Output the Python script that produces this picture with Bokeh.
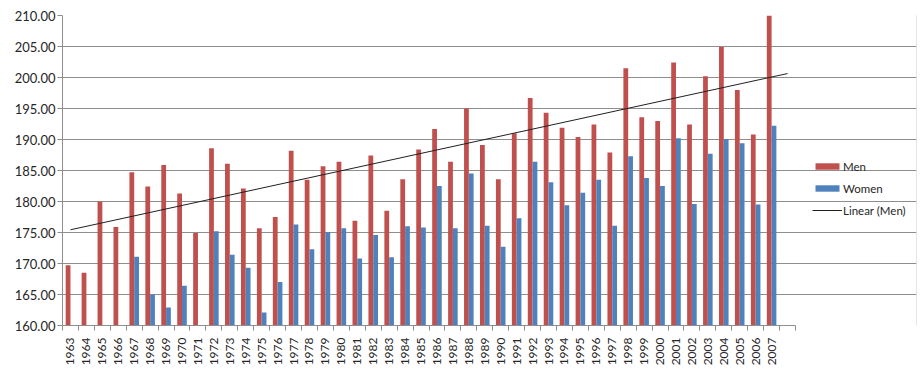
import numpy as np
from bokeh.plotting import figure
from bokeh.models import (Range1d, FixedTicker, PrintfTickFormatter, Legend, LegendItem,
                          ColumnDataSource)
from bokeh.transform import dodge
from bokeh.embed import file_html
from bokeh.resources import INLINE

nan = float("nan")

years = list(range(1963, 2008))
men = [169.7, 168.5, 180.0, 175.9, 184.7, 182.4, 185.9, 181.3, 174.9, 188.6,
       186.1, 182.1, 175.7, 177.5, 188.2, 183.5, 185.7, 186.4, 176.9, 187.4,
       178.5, 183.6, 188.4, 191.7, 186.4, 195.0, 189.1, 183.6, 191.0, 196.7,
       194.3, 191.9, 190.4, 192.4, 187.9, 201.5, 193.6, 193.0, 202.4, 192.4,
       200.2, 204.9, 198.0, 190.8, 210.0]
women = [nan, nan, 159.7, 159.7, 171.1, 165.0, 162.9, 166.4, nan, 175.2,
         171.4, 169.3, 162.1, 167.0, 176.3, 172.3, 175.1, 175.7, 170.8, 174.6,
         171.0, 176.0, 175.8, 182.5, 175.7, 184.5, 176.1, 172.7, 177.3, 186.4,
         183.1, 179.4, 181.4, 183.5, 176.1, 187.3, 183.8, 182.5, 190.2, 179.6,
         187.7, 190.1, 189.4, 179.5, 192.2]
y_ticks = [160, 165, 170, 175, 180, 185, 190, 195, 200, 205, 210]
series_names = ["Men", "Women", "Linear (Men)"]

MEN_COLOR = "#C0504D"
WOMEN_COLOR = "#4F81BD"
GRID = "#8E8E8E"
TEXT = "#262626"
FONT = "Lato"

x = np.array(years, dtype=float)
men_arr = np.array(men)
slope, intercept = np.polyfit(x, men_arr, 1)
trend_x = [years[0], years[-1] + 1]
trend_y = [slope * v + intercept for v in trend_x]

src = ColumnDataSource(dict(x=x, men=men, women=women, base=[160.0] * len(years)))

# layout geometry (pixels): plot area 62..795 x 15..325; frame extended to the
# right so the legend can sit beside the plot area
W, H = 919, 375
FL, FR_AXIS, FR, FT, FB = 62, 795, 916, 15, 325
x0 = years[0] - 0.5
x1_axis = years[-1] + 1.5
slot_px = (FR_AXIS - FL) / (x1_axis - x0)
x1_frame = x0 + (FR - FL) / slot_px

p = figure(width=W, height=H, output_backend="svg", toolbar_location=None,
           x_range=Range1d(x0, x1_frame),
           y_range=Range1d(y_ticks[0], y_ticks[-1]))
p.min_border_left = FL
p.min_border_right = W - FR
p.min_border_top = FT
p.min_border_bottom = H - FB
p.outline_line_color = None
p.background_fill_color = "white"
p.border_fill_color = "white"
p.styles = {"outline": "2px solid #9a9a9a", "outline-offset": "-3px", "border-radius": "4px"}

bw = 0.3
r_men = p.vbar(x=dodge("x", -bw / 2), top="men", bottom="base", width=bw, source=src,
               fill_color=MEN_COLOR, line_color=None)
r_women = p.vbar(x=dodge("x", bw / 2), top="women", bottom="base", width=bw, source=src,
                 fill_color=WOMEN_COLOR, line_color=None)
r_trend = p.line(trend_x, trend_y, line_color="#202020", line_width=1)

# axes
xa = p.xaxis[0]
xa.bounds = (x0, x1_axis)
xa.ticker = FixedTicker(ticks=years,
                        minor_ticks=[v - 0.5 for v in years] + [years[-1] + 0.5, years[-1] + 1.5])
xa.major_tick_out = 0
xa.major_tick_in = 0
xa.minor_tick_out = 5
xa.minor_tick_in = 0
xa.minor_tick_line_color = GRID
xa.axis_line_color = GRID
xa.major_label_orientation = np.pi / 2
xa.major_label_standoff = 7
xa.major_label_text_font = FONT
xa.major_label_text_font_size = "12px"
xa.major_label_text_color = TEXT

ya = p.yaxis[0]
ya.ticker = FixedTicker(ticks=y_ticks)
ya.formatter = PrintfTickFormatter(format="%.2f")
ya.major_tick_out = 5
ya.major_tick_in = 0
ya.minor_tick_line_color = None
ya.major_tick_line_color = GRID
ya.axis_line_color = GRID
ya.major_label_standoff = 2
ya.major_label_text_font = FONT
ya.major_label_text_font_size = "13px"
ya.major_label_text_color = TEXT

p.xgrid.visible = False
p.ygrid.grid_line_color = GRID
p.ygrid.grid_line_alpha = 1.0
p.ygrid.bounds = (x0, x1_axis)

legend = Legend(items=[LegendItem(label=series_names[0], renderers=[r_men]),
                       LegendItem(label=series_names[1], renderers=[r_women]),
                       LegendItem(label=series_names[2], renderers=[r_trend])],
                location=(812 - FL, 105))
legend.glyph_width = 30
legend.glyph_height = 8
legend.label_height = 20
legend.spacing = 2
legend.padding = 0
legend.margin = 0
legend.label_standoff = 1
legend.border_line_color = None
legend.background_fill_alpha = 0
legend.label_text_font = FONT
legend.label_text_font_size = "11.5px"
legend.label_text_color = TEXT
p.add_layout(legend, "center")

open("out.html", "w").write(file_html(p, INLINE))
